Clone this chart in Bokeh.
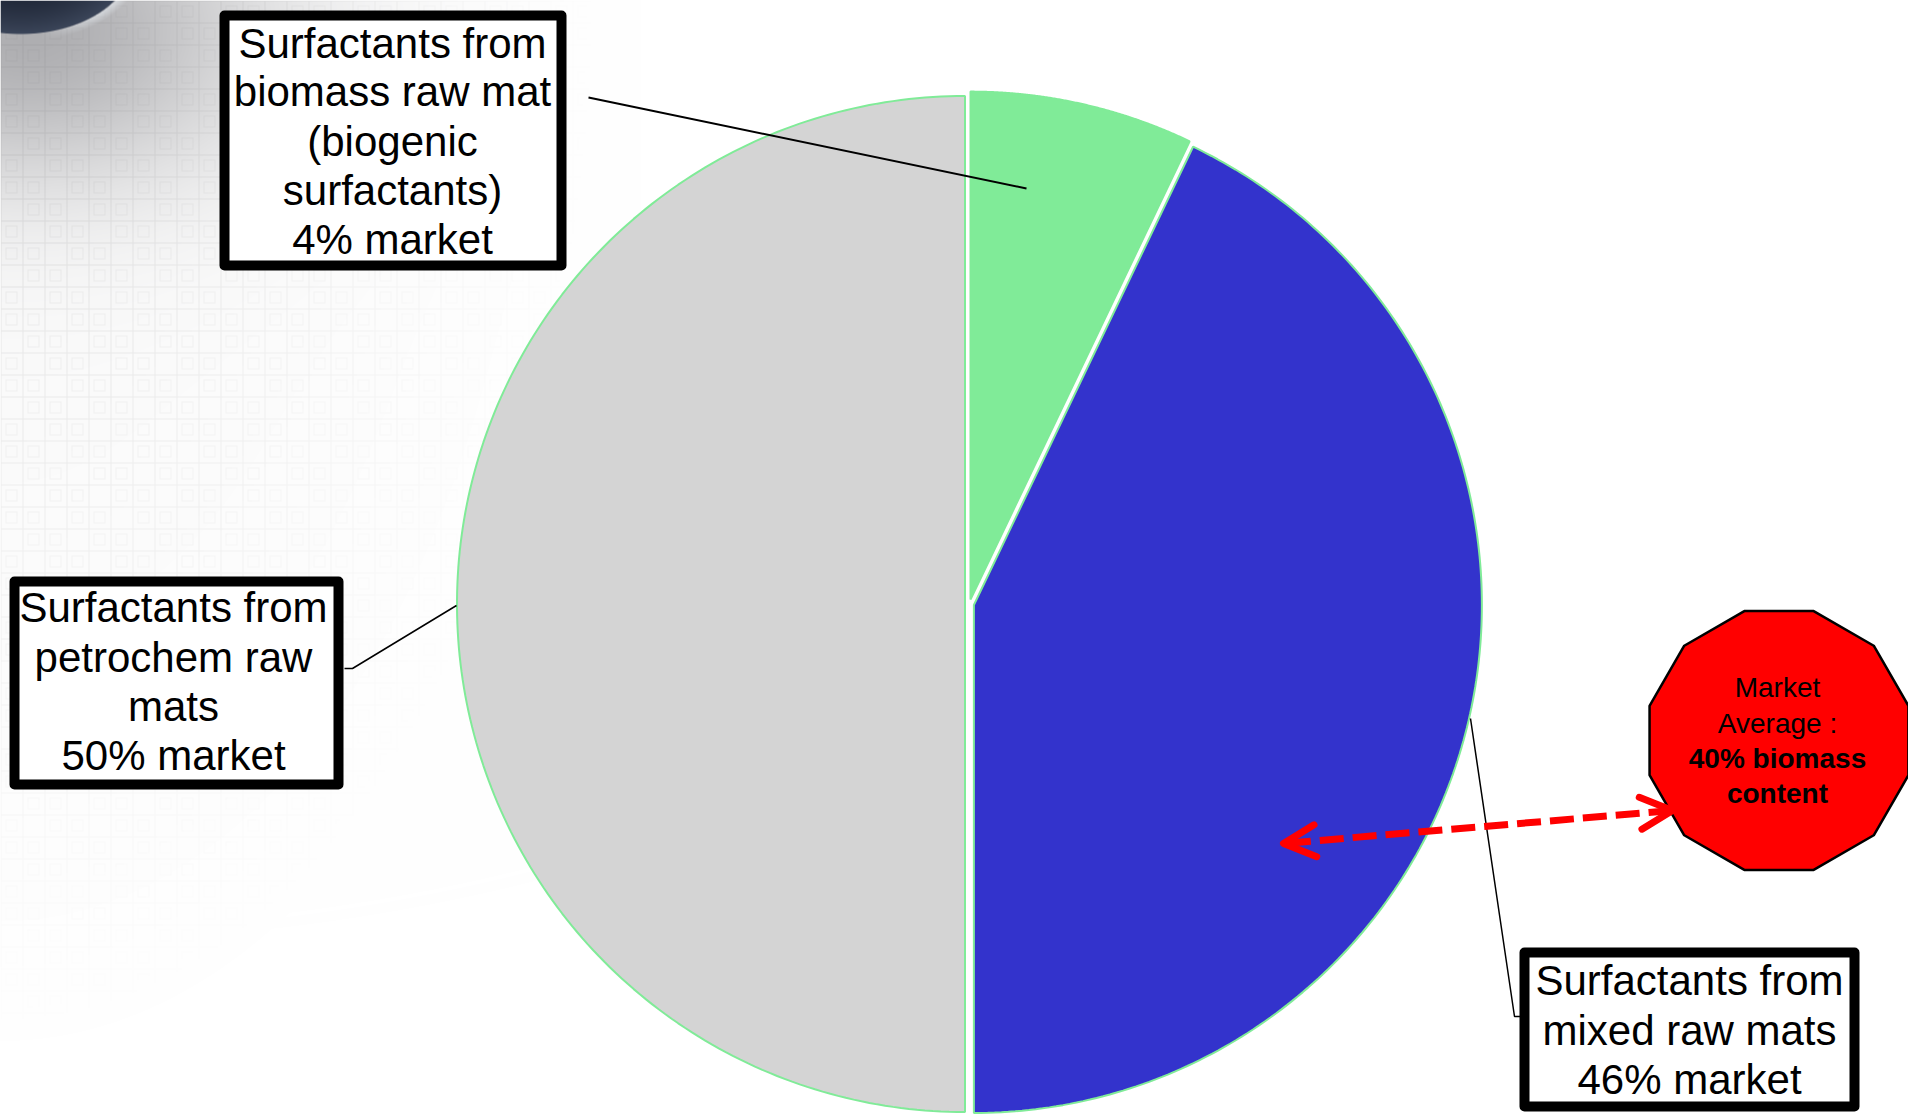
import numpy as np
from bokeh.plotting import figure
from bokeh.models import Range1d, Arrow, OpenHead
from bokeh.core.properties import value
from bokeh.embed import file_html
from bokeh.resources import INLINE

W, H = 1908, 1114

# ---------------- data ----------------
categories = ["biomass raw mat (biogenic)", "mixed raw mats", "petrochem raw mats"]
shares = [7.1, 42.9, 50.0]          # angular shares of the drawn slices
slice_colors = ["#80EB98", "#3333CC", "#D4D4D4"]
label_lines = [
    ["Surfactants from", "biomass raw mat", "(biogenic", "surfactants)", "4% market"],
    ["Surfactants from", "mixed raw mats", "46% market"],
    ["Surfactants from", "petrochem raw", "mats", "50% market"],
]
badge_lines = ["Market", "Average :", "40% biomass", "content"]
badge_bold = [False, False, True, True]


def Y(py):
    return H - py


p = figure(width=W, height=H, x_range=Range1d(0, W), y_range=Range1d(0, H),
           output_backend="svg", toolbar_location=None, min_border=0)
p.axis.visible = False
p.grid.visible = False
p.outline_line_color = None
p.background_fill_color = "white"
p.border_fill_color = "white"

# ---------------- decorative background (top-left) ----------------
iw, ih = 640, H
X, Yp = np.meshgrid(np.arange(iw) + 0.5, np.arange(ih) + 0.5)
rgb = np.ones((ih, iw, 3)) * 255.0


def over(base, color, alpha):
    a = np.clip(alpha, 0, 1)[..., None]
    return base * (1 - a) + np.array(color, dtype=float)[None, None, :] * a


fade = np.clip(1 - np.sqrt((X / 600.0) ** 2 + (Yp / 1040.0) ** 2), 0, 1) ** 0.9
pitch = 22
gx = X.astype(int) % pitch
gy = Yp.astype(int) % pitch
cx_ = X.astype(int) // pitch
cy_ = Yp.astype(int) // pitch
main = ((gx == 0) | (gy == 0)).astype(float)
inner_on = ((cx_ + 2 * cy_) % 3 != 0)
inner = ((((gx == 5) | (gx == 16)) & (gy >= 5) & (gy <= 16)) |
         (((gy == 5) | (gy == 16)) & (gx >= 5) & (gx <= 16))) & inner_on
rgb = over(rgb, (220, 220, 220), 0.2 * fade)
rgb = over(rgb, (175, 175, 175), 0.32 * fade * main + 0.2 * fade * inner)
g = np.exp(-(((X - 30) / 230.0) ** 2 + ((Yp - 30) / 150.0) ** 2))
rgb = over(rgb, (125, 125, 130), 0.6 * g)
e = ((X - 20) / 113.0) ** 2 + ((Yp + 40) / 74.0) ** 2
rim = np.where((e > 1) & (e < 1.2), 1 - (e - 1) / 0.2, 0) * np.clip((X - 40) / 60.0, 0, 1)
rgb = over(rgb, (225, 230, 235), 0.7 * rim)
sph = np.clip((1 - e) * 40, 0, 1)
shade = np.clip(e, 0, 1)[..., None]
dark = np.array([24, 31, 46])[None, None, :] * (1 - shade) + np.array([60, 70, 90])[None, None, :] * shade
a = sph[..., None]
rgb = rgb * (1 - a) + dark * a

img = np.empty((ih, iw), dtype=np.uint32)
view = img.view(dtype=np.uint8).reshape((ih, iw, 4))
view[..., 0] = rgb[..., 0].astype(np.uint8)
view[..., 1] = rgb[..., 1].astype(np.uint8)
view[..., 2] = rgb[..., 2].astype(np.uint8)
view[..., 3] = 255
p.image_rgba(image=[img[::-1]], x=0, y=0, dw=iw, dh=ih)

# ---------------- pie ----------------
pcx, pcy = 969.0, Y(603.5)
R = 508.0
explode = 4.5
xs, ys = [], []
start = 90.0
for s in shares:
    sweep = s / 100.0 * 360.0
    a0, a1 = start, start - sweep
    mid = np.deg2rad((a0 + a1) / 2)
    ox, oy = pcx + explode * np.cos(mid), pcy + explode * np.sin(mid)
    ang = np.deg2rad(np.linspace(a0, a1, 200))
    xs.append(np.concatenate([[ox], ox + R * np.cos(ang), [ox]]))
    ys.append(np.concatenate([[oy], oy + R * np.sin(ang), [oy]]))
    start = a1
p.patches(xs, ys, fill_color=slice_colors, line_color="#80EB98", line_width=2)

# ---------------- leader lines ----------------
p.line([588, 1026], [Y(97), Y(188)], line_color="black", line_width=2)
p.line([456, 352, 344], [Y(605), Y(668), Y(668)], line_color="black", line_width=1.5)
p.line([1470, 1514, 1520], [Y(718), Y(1016), Y(1016)], line_color="black", line_width=1.5)

# ---------------- label boxes ----------------
boxes = [(224, 561, 15, 265), (1524, 1854, 952, 1106), (14, 338, 581, 784)]
for (l, r, t, b) in boxes:
    p.quad(left=l, right=r, top=Y(t), bottom=Y(b), fill_color="white",
           line_color="black", line_width=10, line_join="round")

LBL = 42
text_pos = [(392, [59, 107, 157, 206, 255]),
            (1689, [996, 1046, 1095]),
            (173, [623, 673, 722, 771])]
tx, ty, tt = [], [], []
for (xc, bases), lines in zip(text_pos, label_lines):
    for bl, t in zip(bases, lines):
        tx.append(xc)
        ty.append(Y(bl - 0.37 * LBL))
        tt.append(t)
p.text(x=tx, y=ty, text=tt, text_align="center", text_baseline="middle",
       text_font=value("Liberation Sans"), text_font_size="%dpx" % LBL, text_color="black")

# ---------------- dodecagon badge ----------------
bcx, bcy, br = 1778.5, Y(740), 134.0
ang = np.deg2rad(15 + 30 * np.arange(12))
p.patch(bcx + br * np.cos(ang), bcy + br * np.sin(ang), fill_color="#FF0000",
        line_color="black", line_width=2.5)
BDG = 28
badge_base = [697, 733, 768, 803]
for t, bl, bold in zip(badge_lines, badge_base, badge_bold):
    p.text(x=[1777], y=[Y(bl - 0.37 * BDG)], text=[t], text_align="center", text_baseline="middle",
           text_font=value("Liberation Sans"), text_font_size="%dpx" % BDG,
           text_font_style="bold" if bold else "normal", text_color="black")

# ---------------- dashed double arrow ----------------
head_kw = dict(size=32, line_color="#FF0000", line_width=7, line_cap="round", line_join="round")
p.add_layout(Arrow(x_start=1672, y_start=Y(810), x_end=1283, y_end=Y(843),
                   start=OpenHead(**head_kw), end=OpenHead(**head_kw),
                   line_color="#FF0000", line_width=7, line_dash="24 9"))

open("out.html", "w").write(file_html(p, INLINE))
